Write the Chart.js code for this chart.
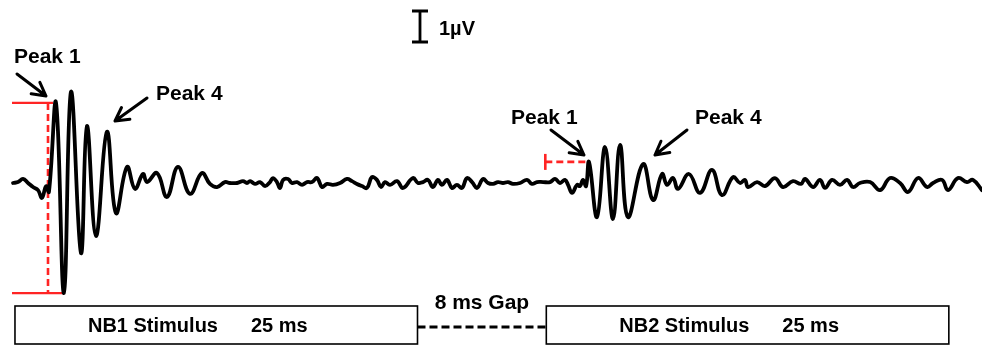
<!DOCTYPE html>
<html>
<head>
<meta charset="utf-8">
<script src="https://cdn.jsdelivr.net/npm/chart.js@4.4.1/dist/chart.umd.min.js"></script>
<style>
  html, body { margin: 0; padding: 0; background: #fff; }
  #wrap { width: 982px; height: 348px; }
</style>
</head>
<body>
<div id="wrap"><canvas id="abrChart" width="982" height="348"></canvas></div>
<script>
// time (ms) from NB1 onset, amplitude (uV)
const times = [
    -0.12, 0.19, 0.50, 0.81, 1.12, 1.43, 1.68, 1.93, 2.11, 2.55,
    3.04, 3.48, 4.10, 4.47, 5.03, 5.71, 6.27, 6.96, 7.45, 7.95,
    8.20, 8.82, 9.44, 10.12, 10.87, 11.61, 12.11, 12.55, 13.04, 13.35,
    13.79, 14.16, 14.41, 14.60, 14.91, 15.22, 15.53, 15.84, 16.02, 16.27,
    16.46, 16.65, 16.96, 17.20, 17.52, 17.83, 18.14, 18.45, 18.76, 19.07,
    19.38, 19.75, 20.19, 20.62, 20.93, 21.24, 21.55, 21.86, 22.17, 22.48,
    22.73, 22.98, 23.29, 23.73, 24.10, 24.72, 25.03, 25.34, 25.65, 25.96,
    26.27, 26.52, 26.83, 27.14, 27.45, 27.76, 28.07, 28.39, 28.70, 29.07,
    29.38, 29.69, 30.00, 30.31, 30.62, 30.93, 31.37, 31.80, 32.11, 32.42,
    32.80, 33.23, 33.54, 33.85, 34.16, 34.35, 34.60, 34.91, 35.09, 35.28,
    35.47, 35.65, 36.15, 36.65, 37.14, 37.58, 38.07, 39.01, 39.63, 40.19,
    40.50, 40.87, 41.18, 41.86, 42.55, 43.29, 43.91, 44.60, 45.03, 45.34,
    45.53, 46.09, 46.58, 47.20, 47.70, 48.32, 48.82, 49.07, 49.57, 50.00,
    50.31, 50.75, 51.24, 51.68, 52.05, 52.48, 53.11, 53.73, 54.35, 54.97,
    55.47, 56.09, 56.65, 57.02, 57.58, 57.95, 58.57, 59.13, 59.50, 60.06
];
const amps = [
    0, 0.03, 0.13, 0, -0.13, -0.23, -0.48, -0.10, -0.29, 2.58,
    -3.55, 2.94, -2.26, 1.84, -1.71, 1.65, -0.97, 0.52, -0.19, 0.29,
    0.03, 0.32, -0.45, 0.52, -0.35, 0.32, -0.03, -0.13, 0.03, 0,
    0, 0.06, 0, 0.06, -0.03, 0.03, -0.10, 0.03, 0.16, 0.03,
    -0.16, 0.10, 0.13, 0, 0.03, -0.06, 0.03, 0.03, 0.16, -0.13,
    -0.03, -0.06, 0, 0.13, 0.06, -0.03, -0.10, -0.16, 0.19, 0.10,
    -0.13, 0.03, -0.06, 0.06, -0.16, 0.16, 0, 0.03, 0.10, -0.13,
    0.10, -0.06, 0.10, -0.16, -0.06, -0.16, 0.16, 0.03, -0.16, 0.13,
    0, -0.03, 0.03, 0, 0.03, -0.03, 0, 0.10, -0.03, 0.03,
    0.03, 0.03, 0.13, 0, 0.10, -0.06, -0.32, -0.06, -0.10, 0.10,
    -0.10, 0.68, -1.10, 1.16, -1.16, 1.23, -1.10, 0.61, -0.55, 0.29,
    -0.06, 0.16, -0.19, 0.29, -0.32, 0.42, -0.39, 0.19, 0, 0.10,
    -0.13, 0.03, -0.10, 0.16, -0.13, 0.06, -0.03, 0.13, -0.13, 0.10,
    -0.16, 0.10, -0.06, 0.10, -0.13, 0, 0.03, -0.23, 0.16, 0,
    -0.29, 0.16, -0.13, 0, 0.10, -0.23, 0.16, 0.03, 0.10, -0.23
];

// stimulus timing (ms)
const stimLabels = ['NB1 Stimulus', 'NB2 Stimulus'];
const stimOnsets = [0, 33];
const stimDurations = [25, 25];
const peakLabels = ['Peak 1', 'Peak 4'];
const scaleBarUv = 1;

const FONT = 'bold 21px "Liberation Sans", Arial, sans-serif';
const RED = '#ff2424';

function drawArrow(ctx, x1, y1, x2, y2) {
    const ang = Math.atan2(y2 - y1, x2 - x1);
    const len = 15;
    ctx.save();
    ctx.strokeStyle = '#000';
    ctx.lineWidth = 3;
    ctx.lineCap = 'round';
    ctx.lineJoin = 'round';
    ctx.beginPath();
    ctx.moveTo(x1, y1);
    ctx.lineTo(x2, y2);
    ctx.moveTo(x2 - len * Math.cos(ang - 0.5), y2 - len * Math.sin(ang - 0.5));
    ctx.lineTo(x2, y2);
    ctx.lineTo(x2 - len * Math.cos(ang + 0.5), y2 - len * Math.sin(ang + 0.5));
    ctx.stroke();
    ctx.restore();
}

// red amplitude markers, drawn under the trace
const redMarkers = {
    id: 'redMarkers',
    beforeDatasetsDraw(chart) {
        const ctx = chart.ctx;
        const sx = v => chart.scales.x.getPixelForValue(v);
        const sy = v => chart.scales.y.getPixelForValue(v);

        // first response: peak 1 to following trough
        let iPk = 0, iTr = 0;
        times.forEach((t, i) => {
            if (t < 10) {
                if (amps[i] > amps[iPk] && t < 3) iPk = i;
                if (amps[i] < amps[iTr]) iTr = i;
            }
        });
        const yTop = sy(amps[iPk]);
        const yBot = sy(amps[iTr]);
        ctx.save();
        ctx.strokeStyle = RED;
        ctx.lineWidth = 2.2;
        ctx.beginPath();
        ctx.moveTo(12, yTop); ctx.lineTo(sx(times[iPk]) - 3, yTop);
        ctx.moveTo(12, yBot); ctx.lineTo(sx(times[iTr]), yBot);
        ctx.stroke();
        ctx.lineWidth = 2.6;
        ctx.setLineDash([7, 4]);
        ctx.beginPath();
        ctx.moveTo(48, yTop); ctx.lineTo(48, yBot);
        ctx.stroke();

        // second response: peak 1 latency marker
        let j = times.findIndex(t => t > 35.5);
        const y2 = sy(amps[j]);
        const xEnd = sx(times[j]) - 3;
        const xStart = sx(stimOnsets[1]) - 1;
        ctx.beginPath();
        ctx.moveTo(xStart, y2); ctx.lineTo(xEnd, y2);
        ctx.stroke();
        ctx.setLineDash([]);
        ctx.beginPath();
        ctx.moveTo(xStart, y2 - 8); ctx.lineTo(xStart, y2 + 8);
        ctx.stroke();
        ctx.restore();
    }
};

// labels, arrows, stimulus boxes, scale bar
const overlays = {
    id: 'overlays',
    afterDraw(chart) {
        const ctx = chart.ctx;
        const sx = v => chart.scales.x.getPixelForValue(v);
        const sy = v => chart.scales.y.getPixelForValue(v);
        ctx.save();
        ctx.fillStyle = '#000';
        ctx.strokeStyle = '#000';
        ctx.textBaseline = 'middle';
        ctx.font = FONT;

        // scale bar
        const barH = sy(0) - sy(scaleBarUv);
        const bx = 420, bTop = 11;
        ctx.lineWidth = 2.8;
        ctx.beginPath();
        ctx.moveTo(bx, bTop); ctx.lineTo(bx, bTop + barH);
        ctx.moveTo(bx - 8, bTop); ctx.lineTo(bx + 8, bTop);
        ctx.moveTo(bx - 8, bTop + barH); ctx.lineTo(bx + 8, bTop + barH);
        ctx.stroke();
        ctx.font = 'bold 20px "Liberation Sans", Arial, sans-serif';
        ctx.textAlign = 'left';
        ctx.fillText(scaleBarUv + 'µV', 439, 29);

        // peak labels and arrows
        ctx.font = FONT;
        ctx.fillText(peakLabels[0], 14, 57);
        ctx.fillText(peakLabels[1], 156, 94);
        ctx.fillText(peakLabels[0], 511, 118);
        ctx.fillText(peakLabels[1], 695, 118);
        drawArrow(ctx, 17, 74, 46, 96);
        drawArrow(ctx, 147, 98, 115, 121);
        drawArrow(ctx, 551, 130, 584, 155);
        drawArrow(ctx, 687, 130, 655, 155);

        // stimulus boxes
        const boxTop = 306, boxBot = 344;
        ctx.lineWidth = 1.6;
        stimLabels.forEach((lab, i) => {
            const x0 = sx(stimOnsets[i]);
            const x1 = sx(stimOnsets[i] + stimDurations[i]);
            ctx.strokeRect(x0, boxTop, x1 - x0, boxBot - boxTop);
            ctx.font = 'bold 20px "Liberation Sans", Arial, sans-serif';
            ctx.textAlign = 'right';
            ctx.fillText(lab, x0 + 203, 326);
            ctx.textAlign = 'left';
            ctx.fillText(stimDurations[i] + ' ms', x0 + 236, 326);
        });

        // gap between the two stimuli
        const g0 = sx(stimOnsets[0] + stimDurations[0]);
        const g1 = sx(stimOnsets[1]);
        ctx.lineWidth = 3;
        ctx.setLineDash([8, 4]);
        ctx.beginPath();
        ctx.moveTo(g0, 327); ctx.lineTo(g1, 327);
        ctx.stroke();
        ctx.setLineDash([]);
        ctx.font = FONT;
        ctx.textAlign = 'center';
        const gapMs = stimOnsets[1] - stimOnsets[0] - stimDurations[0];
        ctx.fillText(gapMs + ' ms Gap', (g0 + g1) / 2, 303);
        ctx.restore();
    }
};

const ctx = document.getElementById('abrChart').getContext('2d');
new Chart(ctx, {
    type: 'line',
    data: {
        datasets: [{
            data: times.map((t, i) => ({ x: t, y: amps[i] })),
            borderColor: '#000',
            borderWidth: 3.8,
            pointRadius: 0,
            tension: 0.42,
            borderJoinStyle: 'round',
            borderCapStyle: 'round',
            fill: false
        }]
    },
    options: {
        responsive: false,
        animation: false,
        layout: { padding: 0 },
        plugins: {
            legend: { display: false },
            tooltip: { enabled: false }
        },
        scales: {
            x: { type: 'linear', display: false, min: -0.93, max: 60.06 },
            y: { display: false, min: -5.32, max: 5.90 }
        }
    },
    plugins: [redMarkers, overlays]
});
</script>
</body>
</html>
